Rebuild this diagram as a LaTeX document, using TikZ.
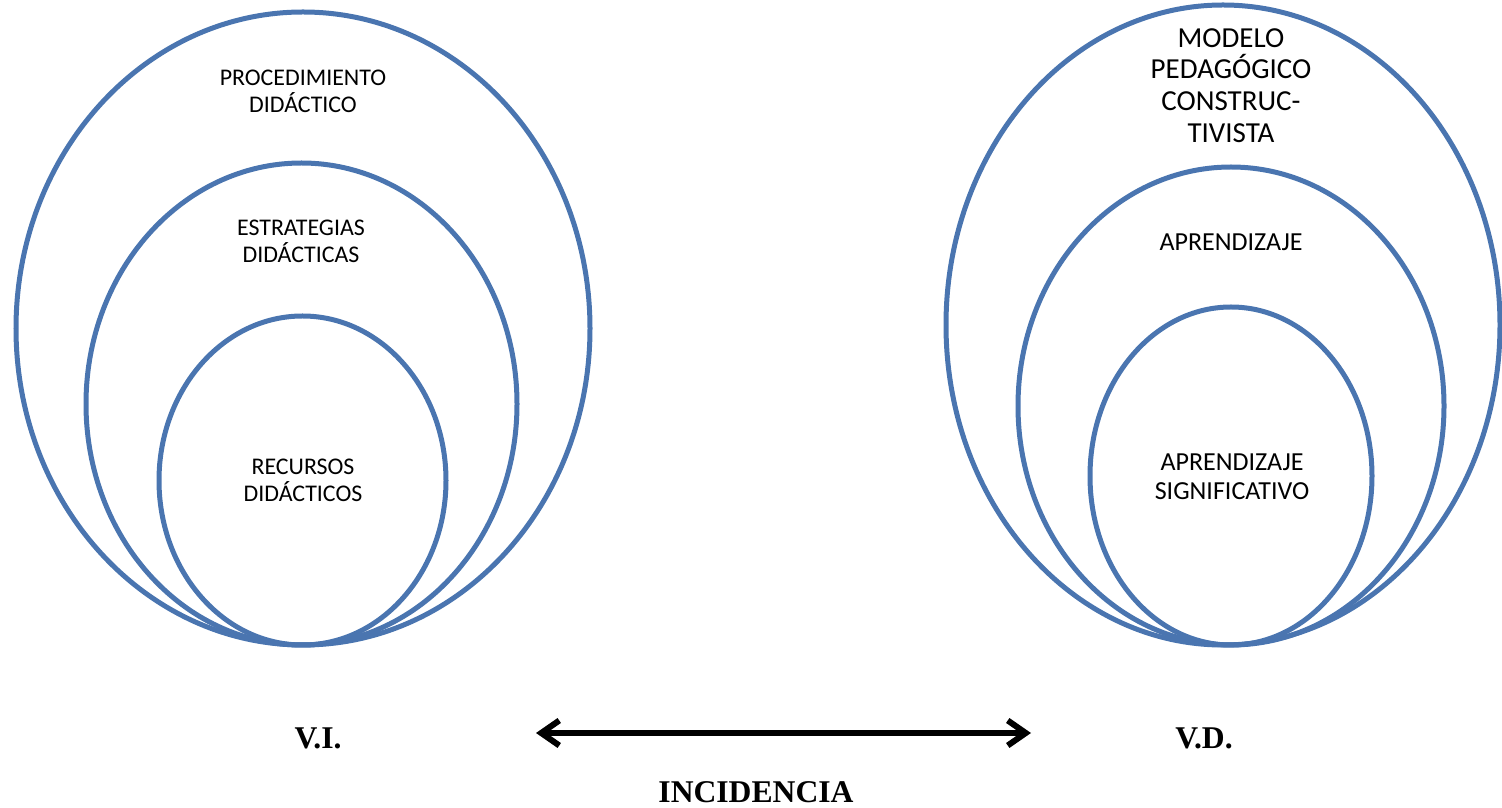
\documentclass[tikz,border=0pt]{standalone}
\usepackage{fontspec}
\setmainfont{Carlito}
\newfontfamily\timesfont{Liberation Serif}
\usetikzlibrary{arrows.meta,shapes.geometric}
\definecolor{ringblue}{RGB}{74,117,176}

\begin{document}
\begin{tikzpicture}[ring/.style={draw=ringblue,line width=0.1cm,ellipse,inner sep=0pt},lab/.style={align=center,font=\fontsize{13.6}{15.3}\selectfont},big/.style={font=\timesfont\bfseries\fontsize{18}{21}\selectfont}]
\useasboundingbox (0,0) rectangle (30.04,16.16);
\node[ring,minimum width=11.48cm,minimum height=12.66cm] (PO) at (6.06,9.59) {};
\node[ring,minimum width=8.62cm,minimum height=9.64cm] (PM) at (6.03,8.08) {};
\node[ring,minimum width=5.74cm,minimum height=6.58cm] (PI) at (6.05,6.55) {};
\node[ring,minimum width=11.08cm,minimum height=12.80cm] (MO) at (24.46,9.66) {};
\node[ring,minimum width=8.52cm,minimum height=9.56cm] (MM) at (24.62,8.04) {};
\node[ring,minimum width=5.64cm,minimum height=6.76cm] (MI) at (24.62,6.64) {};
\node[lab] (proc) at (6.06,14.33) {PROCEDIMIENTO\\DIDÁCTICO};
\node[lab] (estr) at (6.02,11.34) {ESTRATEGIAS\\DIDÁCTICAS};
\node[lab] (recu) at (6.06,6.56) {RECURSOS\\DIDÁCTICOS};
\node[lab,font=\fontsize{16.5}{18}\selectfont] (mode) at (24.62,14.45) {MODELO\\PEDAGÓGICO\\CONSTRUC-\\TIVISTA};
\node[lab,font=\fontsize{14.8}{16.4}\selectfont] (apre) at (24.62,11.32) {APRENDIZAJE};
\node[lab,font=\fontsize{14.8}{16.4}\selectfont] (sign) at (24.64,6.63) {APRENDIZAJE\\SIGNIFICATIVO};
\node[big] (VI) at (6.36,1.40) {V.I.};
\node[big] (VD) at (24.08,1.40) {V.D.};
\node[big] (inc) at (15.12,0.32) {INCIDENCIA};
\coordinate (al) at (10.72,1.50);
\coordinate (ar) at (20.62,1.50);
\draw[{Straight Barb[length=0.36cm,width=0.5cm]}-{Straight Barb[length=0.36cm,width=0.5cm]},line width=0.12cm] (al)--(ar);
\end{tikzpicture}
\end{document}
